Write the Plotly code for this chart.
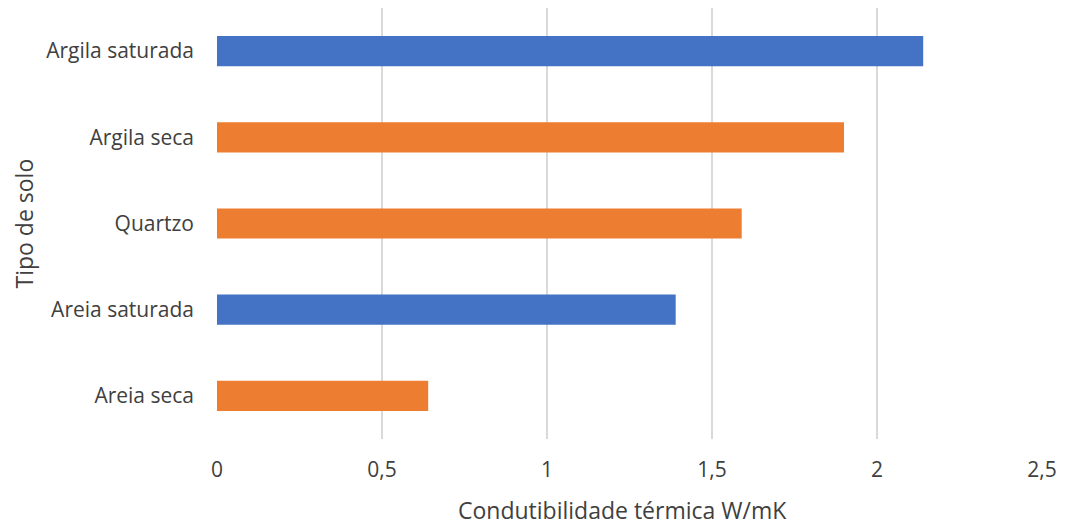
import plotly.graph_objects as go

# Soil types (bottom to top) and their thermal conductivity in W/mK
soil_types = ["Areia seca", "Areia saturada", "Quartzo", "Argila seca", "Argila saturada"]
conductivity = [0.64, 1.39, 1.59, 1.90, 2.14]
bar_colors = ["#ED7D31", "#4472C4", "#ED7D31", "#ED7D31", "#4472C4"]

x_tick_vals = [0, 0.5, 1, 1.5, 2, 2.5]
x_tick_text = ["0", "0,5", "1", "1,5", "2", "2,5"]

x_title = "Condutibilidade térmica W/mK"
y_title = "Tipo de solo"

font_family = "Open Sans"
text_color = "#404040"

fig = go.Figure(
    go.Bar(
        x=conductivity,
        y=soil_types,
        orientation="h",
        width=0.35,
        marker=dict(color=bar_colors, line=dict(width=0)),
        hoverinfo="x+y",
    )
)

fig.update_layout(
    width=1065,
    height=525,
    margin=dict(l=217, r=23, t=8, b=86),
    paper_bgcolor="white",
    plot_bgcolor="white",
    showlegend=False,
    font=dict(family=font_family, size=21, color=text_color),
)

fig.update_xaxes(
    range=[0, 2.5],
    tickvals=x_tick_vals,
    ticktext=x_tick_text,
    showgrid=True,
    gridcolor="#D9D9D9",
    gridwidth=1.5,
    zeroline=False,
    showline=False,
    ticks="",
    ticklabelstandoff=16,
    tickfont=dict(size=21, color=text_color),
    automargin=False,
)

fig.update_yaxes(
    categoryorder="array",
    categoryarray=soil_types,
    range=[-0.5, 4.5],
    showgrid=False,
    zeroline=False,
    showline=False,
    ticks="",
    ticklabelstandoff=22,
    tickfont=dict(size=21, color=text_color),
    automargin=False,
)

# Axis titles placed in paper coordinates so the plot area stays fixed
fig.add_annotation(
    text=x_title,
    xref="paper", yref="paper",
    x=0.5, y=0, xshift=-7, yshift=-71,
    xanchor="center", yanchor="middle",
    showarrow=False,
    font=dict(size=23, color=text_color),
)
fig.add_annotation(
    text=y_title,
    xref="paper", yref="paper",
    x=0, y=0.5, xshift=-194,
    xanchor="center", yanchor="middle",
    textangle=-90,
    showarrow=False,
    font=dict(size=23, color=text_color),
)

fig.write_html("out.html")
